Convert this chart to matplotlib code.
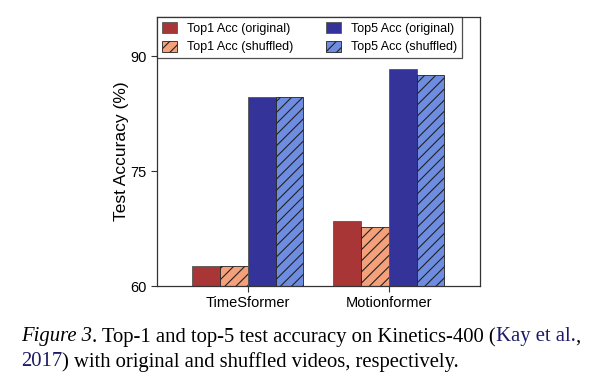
import numpy as np
import matplotlib
matplotlib.use("Agg")
import matplotlib.pyplot as plt

plt.rcParams["font.family"] = ["Liberation Sans", "DejaVu Sans"]
plt.rcParams["hatch.linewidth"] = 0.8

# data
models = ["TimeSformer", "Motionformer"]
top1_orig = [62.6, 68.5]
top1_shuf = [62.6, 67.7]
top5_orig = [84.6, 88.3]
top5_shuf = [84.6, 87.5]
series_labels = ["Top1 Acc (original)", "Top1 Acc (shuffled)",
                 "Top5 Acc (original)", "Top5 Acc (shuffled)"]
yticks = [60, 75, 90]

colors = ["#a83636", "#f4a07a", "#33339a", "#6f8de0"]
hatches = [None, "///", None, "///"]

fig = plt.figure(figsize=(5.99, 3.91), dpi=100)
ax = fig.add_axes([0.262, 0.2685, 0.539, 0.688])

x = np.arange(len(models))
w = 0.197
offsets = [-1.5, -0.5, 0.5, 1.5]
for vals, off, c, h, lab in zip([top1_orig, top1_shuf, top5_orig, top5_shuf],
                                offsets, colors, hatches, series_labels):
    ax.bar(x + off * w, np.array(vals) - 60, w, bottom=60, color=c,
           hatch=h, edgecolor="#222222" if h else "#555555",
           linewidth=0.6, label=lab)

ax.set_xlim(-0.645, 1.645)
ax.set_ylim(60, 95.1)
ax.set_yticks(yticks)
ax.set_xticks(x)
ax.set_xticklabels(models, fontsize=10.5)
ax.tick_params(axis="y", labelsize=10.5, length=4, width=0.8, color="#333333")
ax.tick_params(axis="x", length=4, width=0.8, color="#333333")
ax.set_ylabel("Test Accuracy (%)", fontsize=12.5, labelpad=1)
for s in ax.spines.values():
    s.set_color("#333333")
    s.set_linewidth(0.9)

leg = ax.legend(ncol=2, loc="upper left", fontsize=9.0, borderaxespad=0,
                frameon=True, fancybox=False, handlelength=1.2,
                handleheight=1.0, columnspacing=2.6, handletextpad=0.8,
                borderpad=0.4, labelspacing=0.45)
leg.get_frame().set_edgecolor("#222222")
leg.get_frame().set_linewidth(0.9)

# caption under the chart
cap_font = ["Liberation Serif", "DejaVu Serif"]
cap_size = 14.85
y1 = 1 - 337 / 391
y2 = 1 - 362 / 391
t = fig.text(0.035, y1, "Figure 3", family=cap_font, style="italic",
             fontsize=cap_size, va="center")
fig.canvas.draw()
r = fig.canvas.get_renderer()
bb = t.get_window_extent(r)
t2 = fig.text(bb.x1 / fig.bbox.width, y1,
              ". Top-1 and top-5 test accuracy on Kinetics-400 (",
              family=cap_font, fontsize=cap_size, va="center")
bb = t2.get_window_extent(r)
t3 = fig.text(bb.x1 / fig.bbox.width, y1, "Kay et al.", family=cap_font,
              fontsize=cap_size, va="center", color="#1a1a66")
bb = t3.get_window_extent(r)
fig.text(bb.x1 / fig.bbox.width, y1, ",", family=cap_font,
         fontsize=cap_size, va="center")
t4 = fig.text(0.035, y2, "2017", family=cap_font, fontsize=cap_size,
              va="center", color="#1a1a66")
bb = t4.get_window_extent(r)
fig.text(bb.x1 / fig.bbox.width, y2,
         ") with original and shuffled videos, respectively.",
         family=cap_font, fontsize=cap_size, va="center")

fig.savefig("out.png", dpi=100, facecolor="white")
